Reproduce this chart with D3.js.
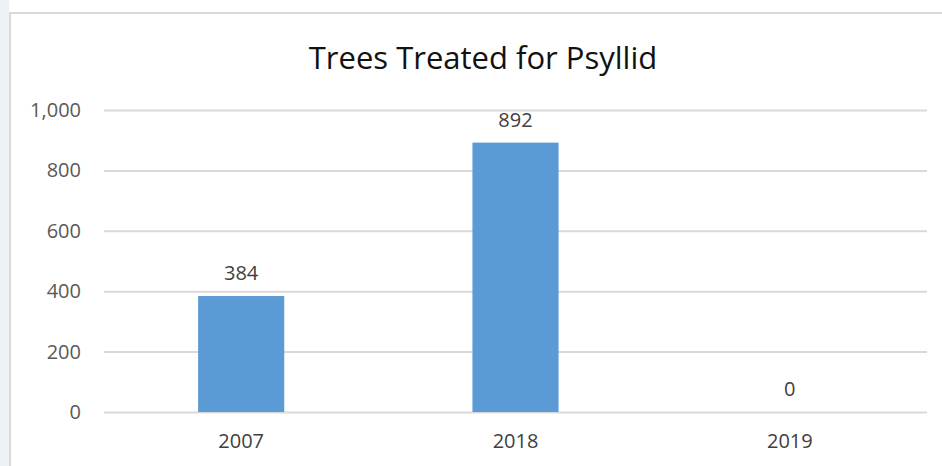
<!DOCTYPE html>
<html>
<head>
<meta charset="utf-8">
<script src="https://cdn.jsdelivr.net/npm/d3@7"></script>
<style>
  html, body { margin: 0; padding: 0; background: #ffffff; }
  svg { display: block; }
</style>
</head>
<body>
<svg id="chart" width="942" height="466"></svg>
<script>
// Trees treated for psyllid, by year
const years = ["2007", "2018", "2019"];
const treesTreated = [384, 892, 0];
const yTicks = [0, 200, 400, 600, 800, 1000];
const chartTitle = "Trees Treated for Psyllid";

const W = 942, H = 466;
const svg = d3.select("#chart");
const font = "'Open Sans', 'Noto Sans', sans-serif";

// page strip and chart frame
svg.append("rect").attr("x", 0).attr("y", 0).attr("width", W).attr("height", H).attr("fill", "#ffffff");
svg.append("rect").attr("x", 0).attr("y", 0).attr("width", 9).attr("height", H).attr("fill", "#eef2f7");
svg.append("rect")
  .attr("x", 10).attr("y", 13).attr("width", W + 20).attr("height", H + 20)
  .attr("fill", "#ffffff").attr("stroke", "#d9d9d9").attr("stroke-width", 2);

const plot = { left: 104, right: 927, top: 110, bottom: 412 };

const x = d3.scaleBand()
  .domain(years)
  .range([plot.left, plot.right])
  .paddingInner(0.686)
  .paddingOuter(0.343);

const y = d3.scaleLinear()
  .domain([0, 1000])
  .range([plot.bottom, plot.top]);

// title
svg.append("text")
  .attr("x", 483).attr("y", 69)
  .attr("text-anchor", "middle")
  .attr("font-family", font).attr("font-size", 31)
  .attr("fill", "#111111")
  .text(chartTitle);

// gridlines + y labels via axis
const yAxis = d3.axisLeft(y)
  .tickValues(yTicks)
  .tickFormat(d3.format(","))
  .tickSize(-(plot.right - plot.left))
  .tickPadding(23);

const gy = svg.append("g")
  .attr("transform", `translate(${plot.left},0)`)
  .call(yAxis);
gy.select(".domain").remove();
gy.selectAll(".tick line").attr("stroke", "#d9d9d9").attr("stroke-width", 2);
gy.selectAll(".tick text")
  .attr("font-family", font).attr("font-size", 20)
  .attr("fill", "#595959");

// bars
svg.append("g").selectAll("rect")
  .data(years.map((yr, i) => ({ yr, v: treesTreated[i] })))
  .join("rect")
  .attr("x", d => x(d.yr))
  .attr("y", d => y(d.v))
  .attr("width", x.bandwidth())
  .attr("height", d => y(0) - y(d.v))
  .attr("fill", "#5b9bd5");

// value labels
svg.append("g").selectAll("text")
  .data(years.map((yr, i) => ({ yr, v: treesTreated[i] })))
  .join("text")
  .attr("x", d => x(d.yr) + x.bandwidth() / 2)
  .attr("y", d => y(d.v) - 16)
  .attr("text-anchor", "middle")
  .attr("font-family", font).attr("font-size", 20)
  .attr("fill", "#404040")
  .text(d => d3.format(",")(d.v));

// x axis labels
const xAxis = d3.axisBottom(x).tickSize(0).tickPadding(22);
const gx = svg.append("g")
  .attr("transform", `translate(0,${plot.bottom})`)
  .call(xAxis);
gx.select(".domain").remove();
gx.selectAll(".tick text")
  .attr("font-family", font).attr("font-size", 20)
  .attr("fill", "#404040");
</script>
</body>
</html>
